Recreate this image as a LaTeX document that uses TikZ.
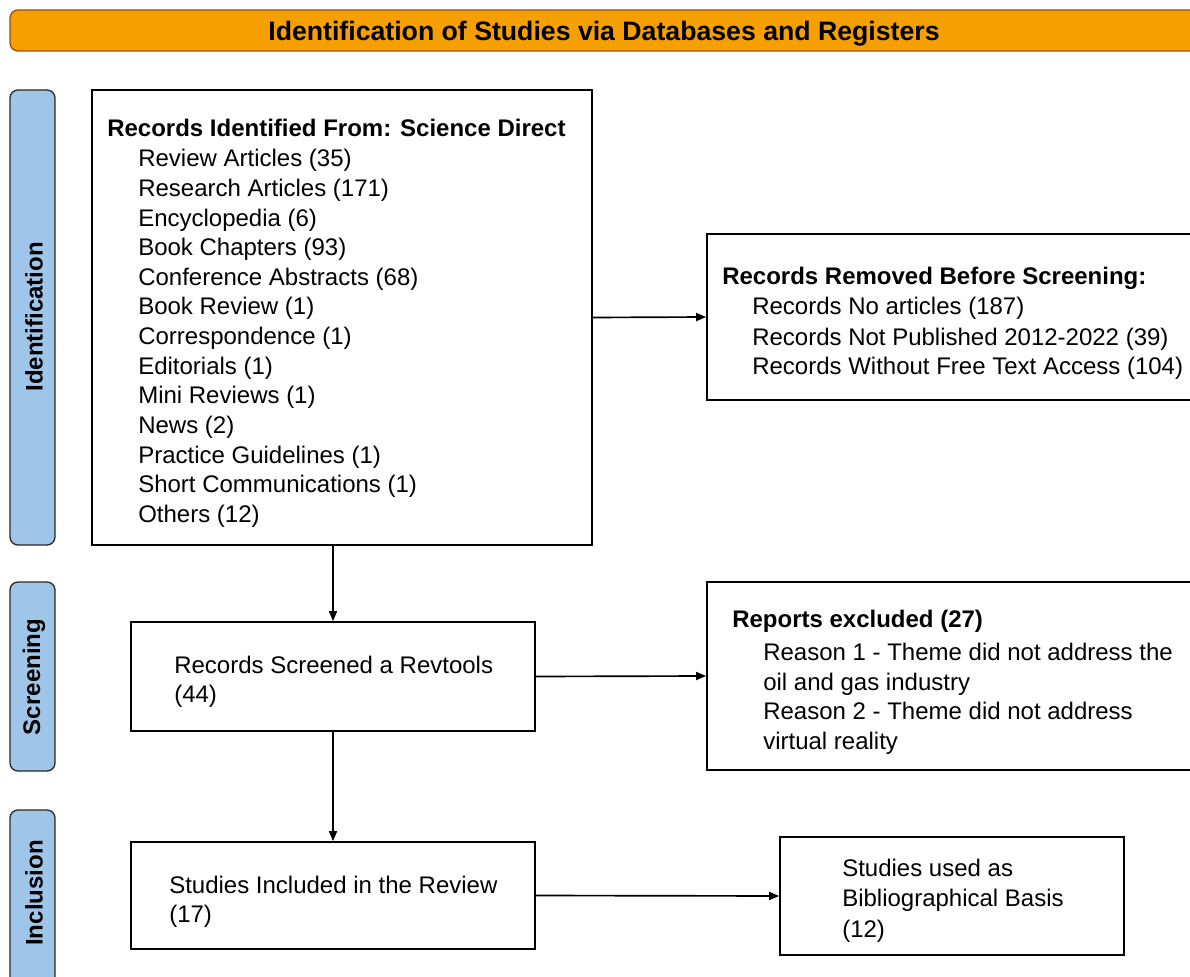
\documentclass[tikz,border=0pt]{standalone}
\usepackage{fontspec}
\setmainfont{Liberation Sans}
\usetikzlibrary{arrows.meta}
\definecolor{hdrfill}{RGB}{245,160,0}
\definecolor{hdrdraw}{RGB}{160,75,20}
\definecolor{lblfill}{RGB}{159,197,232}
\definecolor{lbldraw}{RGB}{40,40,40}
\begin{document}
\begin{tikzpicture}[x=0.75pt,y=-0.75pt,
  sz/.style 2 args={minimum width=#1*0.75pt,minimum height=#2*0.75pt},
  box/.style={draw=black,line width=1.3pt,inner sep=0pt,fill=white},
  lbl/.style={draw=lbldraw,fill=lblfill,line width=1pt,rounded corners=6pt,inner sep=0pt},
  txt/.style={anchor=base west,inner sep=0pt,font=\fontsize{18}{21}\selectfont},
  btxt/.style={anchor=base west,inner sep=0pt,font=\fontsize{18}{21}\selectfont\bfseries},
  ltxt/.style={rotate=90,inner sep=0pt,font=\fontsize{18}{21}\selectfont\bfseries},
  arr/.style={line width=1.25pt,-{Triangle[length=7.5pt,width=6pt]}}]
\clip (0,0) rectangle (1190,977);
\fill[white] (0,0) rectangle (1190,977);
% header
\node[draw=hdrdraw,fill=hdrfill,line width=1pt,rounded corners=6pt,inner sep=0pt,sz={1200}{41}] (hdr) at (610,30.5) {};
\node[anchor=base,inner sep=0pt,font=\fontsize{20}{24}\selectfont\bfseries] (hdrt) at (604,40.5) {Identification of Studies via Databases and Registers};
% side labels
\node[lbl,sz={45}{455}] (L1) at (32.5,317.5) {};
\node[ltxt] (L1t) at (34,317) {Identification};
\node[lbl,sz={45}{189}] (L2) at (32.5,676.5) {};
\node[ltxt] (L2t) at (34,677) {Screening};
\node[lbl,sz={45}{200}] (L3) at (32.5,910) {};
\node[ltxt] (L3t) at (34,893) {Inclusion};
% boxes
\node[box,sz={500}{455}] (b1) at (342,317.5) {};
\node[box,sz={493}{166}] (b2) at (953.5,317) {};
\node[box,sz={404}{109}] (b3) at (333,676.5) {};
\node[box,sz={493}{188}] (b4) at (953.5,676) {};
\node[box,sz={404}{107}] (b5) at (333,895.5) {};
\node[box,sz={344}{118}] (b6) at (952,896) {};
% box1 text
\node[btxt] (b1h) at (107,137) {Records Identified From: Science Direct};
\foreach \t [count=\i] in {Review Articles (35),Research Articles (171),Encyclopedia (6),Book Chapters (93),Conference Abstracts (68),Book Review (1),Correspondence (1),Editorials (1),Mini Reviews (1),News (2),Practice Guidelines (1),Short Communications (1),Others (12)}
  \node[txt] (b1i\i) at (138,{167+(\i-1)*29.6}) {\t};
% box2 text
\node[btxt] (b2h) at (722,285) {Records Removed Before Screening:};
\node[txt] (b2a) at (752,315) {Records No articles (187)};
\node[txt] (b2b) at (752,345) {Records Not Published 2012-2022 (39)};
\node[txt] (b2c) at (752,374) {Records Without Free Text Access (104)};
% box3 text
\node[txt] (b3a) at (174,673) {Records Screened a Revtools};
\node[txt] (b3b) at (174,702) {(44)};
% box4 text
\node[btxt] (b4h) at (732,627) {Reports excluded (27)};
\node[txt] (b4a) at (763,660) {Reason 1 - Theme did not address the};
\node[txt] (b4b) at (763,690) {oil and gas industry};
\node[txt] (b4c) at (763,719) {Reason 2 - Theme did not address};
\node[txt] (b4d) at (763,749) {virtual reality};
% box5 text
\node[txt] (b5a) at (169,893) {Studies Included in the Review};
\node[txt] (b5b) at (169,922) {(17)};
% box6 text
\node[txt] (b6a) at (842,876) {Studies used as};
\node[txt] (b6b) at (842,906) {Bibliographical Basis};
\node[txt] (b6c) at (842,937) {(12)};
% arrows
\draw[arr] (b1.east) -- (b2.west);
\draw[arr] (b1.south -| b3.north) -- (b3.north);
\draw[arr] (b3.east) -- (b4.west);
\draw[arr] (b3.south) -- (b5.north);
\draw[arr] (b5.east) -- (b6.west);
\end{tikzpicture}
\end{document}
